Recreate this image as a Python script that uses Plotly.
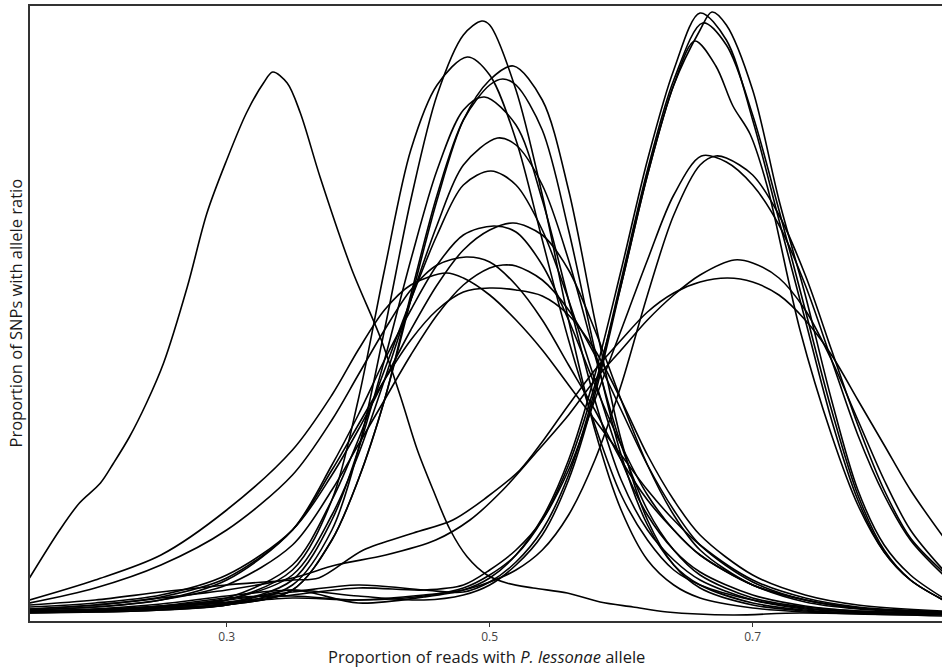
import plotly.graph_objects as go

# ---- data (x = allele proportion, y = density) ----
a_x = [0.150,0.173,0.188,0.204,0.214,0.226,0.239,0.252,0.270,0.285,0.300,0.315,0.328,0.335,0.346,0.356,0.371,0.395,0.417,0.433,0.445,0.457,0.470,0.483,0.498,0.513,0.533,0.559,0.584,0.609,0.635,0.685,0.736,0.844]
a_y = [0.38,0.86,1.13,1.33,1.53,1.79,2.13,2.53,3.29,4.03,4.56,5.03,5.33,5.44,5.33,5.03,4.39,3.47,2.78,2.16,1.66,1.26,0.86,0.59,0.41,0.33,0.28,0.23,0.14,0.09,0.04,0.01,0.03,0.00]

b1_x = [0.15,0.20,0.25,0.30,0.35,0.38,0.40,0.42,0.44,0.46,0.48,0.494,0.50,0.52,0.54,0.56,0.58,0.60,0.62,0.64,0.66,0.70,0.74,0.78,0.845]
b1_y = [0.04,0.04,0.06,0.11,0.31,0.86,1.66,2.86,4.16,5.21,5.81,5.95,5.91,5.26,4.21,2.96,1.86,1.06,0.56,0.31,0.18,0.08,0.04,0.02,0.01]

b2_x = [0.15,0.20,0.25,0.30,0.35,0.38,0.40,0.42,0.44,0.46,0.483,0.50,0.52,0.54,0.56,0.58,0.60,0.62,0.64,0.66,0.70,0.74,0.78,0.845]
b2_y = [0.04,0.06,0.09,0.16,0.46,1.16,2.16,3.46,4.66,5.31,5.59,5.41,4.76,3.76,2.76,1.91,1.21,0.76,0.46,0.31,0.16,0.08,0.04,0.02]

b3_x = [0.15,0.20,0.25,0.30,0.35,0.38,0.40,0.42,0.44,0.46,0.48,0.50,0.518,0.54,0.56,0.58,0.60,0.62,0.64,0.66,0.70,0.74,0.78,0.845]
b3_y = [0.03,0.04,0.06,0.11,0.26,0.76,1.36,2.16,3.16,4.16,4.96,5.36,5.50,5.16,4.26,2.96,1.76,0.96,0.51,0.28,0.11,0.05,0.03,0.02]

b4_x = [0.15,0.20,0.25,0.30,0.35,0.38,0.40,0.42,0.44,0.46,0.48,0.50,0.51,0.52,0.54,0.56,0.58,0.60,0.62,0.64,0.66,0.70,0.74,0.78,0.845]
b4_y = [0.04,0.05,0.07,0.11,0.26,0.76,1.36,2.16,3.21,4.21,4.96,5.31,5.37,5.31,4.86,3.86,2.66,1.61,0.91,0.51,0.31,0.13,0.06,0.03,0.02]

b5_x = [0.15,0.20,0.25,0.30,0.35,0.38,0.40,0.42,0.44,0.46,0.48,0.496,0.52,0.54,0.56,0.58,0.60,0.62,0.64,0.66,0.70,0.74,0.78,0.845]
b5_y = [0.05,0.06,0.08,0.13,0.36,0.96,1.66,2.56,3.56,4.46,5.06,5.19,4.91,4.16,3.16,2.16,1.36,0.86,0.56,0.36,0.16,0.07,0.04,0.02]

b6_x = [0.15,0.20,0.25,0.30,0.35,0.38,0.40,0.42,0.44,0.46,0.48,0.506,0.52,0.54,0.56,0.58,0.60,0.62,0.64,0.66,0.70,0.74,0.78,0.845]
b6_y = [0.05,0.06,0.09,0.16,0.41,1.01,1.61,2.36,3.16,3.91,4.51,4.78,4.71,4.31,3.56,2.61,1.71,1.06,0.66,0.41,0.18,0.09,0.05,0.03]

b7_x = [0.15,0.20,0.25,0.30,0.35,0.38,0.40,0.42,0.44,0.46,0.48,0.501,0.52,0.54,0.56,0.58,0.60,0.62,0.64,0.66,0.70,0.74,0.78,0.845]
b7_y = [0.05,0.07,0.10,0.18,0.51,1.16,1.76,2.46,3.16,3.81,4.31,4.45,4.31,3.86,3.16,2.36,1.56,1.01,0.66,0.44,0.21,0.10,0.05,0.03]

b8_x = [0.15,0.20,0.25,0.30,0.35,0.38,0.40,0.42,0.44,0.46,0.48,0.50,0.518,0.54,0.56,0.58,0.60,0.62,0.64,0.66,0.70,0.74,0.78,0.845]
b8_y = [0.09,0.13,0.21,0.41,0.86,1.41,1.86,2.36,2.86,3.31,3.66,3.86,3.93,3.81,3.46,2.86,2.16,1.51,1.01,0.66,0.31,0.16,0.08,0.04]

b9_x = [0.15,0.20,0.25,0.30,0.35,0.38,0.40,0.42,0.44,0.46,0.48,0.503,0.52,0.54,0.56,0.58,0.60,0.62,0.64,0.66,0.70,0.74,0.78,0.845]
b9_y = [0.06,0.09,0.16,0.36,0.86,1.51,2.01,2.56,3.06,3.51,3.81,3.90,3.84,3.51,2.96,2.31,1.71,1.21,0.86,0.61,0.31,0.14,0.07,0.03]

b10_x = [0.15,0.20,0.25,0.30,0.35,0.38,0.40,0.42,0.44,0.46,0.482,0.50,0.52,0.54,0.56,0.58,0.60,0.62,0.64,0.66,0.70,0.74,0.78,0.845]
b10_y = [0.13,0.28,0.51,0.86,1.41,1.96,2.41,2.86,3.26,3.51,3.59,3.54,3.31,2.96,2.51,2.06,1.56,1.16,0.86,0.61,0.31,0.16,0.08,0.04]

b11_x = [0.15,0.20,0.25,0.30,0.35,0.38,0.40,0.42,0.44,0.46,0.48,0.50,0.51,0.52,0.54,0.56,0.58,0.60,0.62,0.64,0.66,0.70,0.74,0.78,0.845]
b11_y = [0.06,0.09,0.16,0.31,0.71,1.26,1.71,2.16,2.61,3.01,3.31,3.48,3.51,3.50,3.36,3.06,2.61,2.06,1.51,1.06,0.71,0.34,0.16,0.08,0.04]

b12_x = [0.15,0.20,0.25,0.30,0.35,0.38,0.40,0.42,0.44,0.467,0.48,0.50,0.52,0.54,0.56,0.58,0.60,0.62,0.64,0.66,0.70,0.74,0.78,0.845]
b12_y = [0.16,0.36,0.61,1.06,1.66,2.21,2.66,3.06,3.31,3.43,3.38,3.21,2.96,2.66,2.31,1.96,1.61,1.26,0.96,0.71,0.36,0.18,0.09,0.04]

b13_x = [0.15,0.20,0.25,0.30,0.35,0.38,0.40,0.42,0.44,0.46,0.48,0.50,0.52,0.54,0.56,0.58,0.60,0.62,0.64,0.66,0.70,0.74,0.78,0.845]
b13_y = [0.07,0.11,0.19,0.38,0.86,1.46,1.91,2.36,2.76,3.06,3.24,3.28,3.26,3.20,3.01,2.66,2.16,1.61,1.16,0.81,0.41,0.21,0.11,0.05]

c1_x = [0.15,0.20,0.25,0.30,0.35,0.40,0.45,0.48,0.50,0.52,0.54,0.56,0.58,0.60,0.62,0.64,0.66,0.669,0.68,0.70,0.72,0.74,0.76,0.78,0.80,0.82,0.845]
c1_y = [0.04,0.06,0.10,0.18,0.20,0.16,0.20,0.28,0.41,0.61,0.96,1.51,2.31,3.31,4.41,5.31,5.86,6.04,5.91,5.26,4.16,3.21,2.16,1.26,0.71,0.41,0.18]

c2_x = [0.15,0.20,0.25,0.30,0.35,0.40,0.45,0.48,0.50,0.52,0.54,0.56,0.58,0.60,0.62,0.64,0.66,0.68,0.70,0.72,0.74,0.76,0.78,0.80,0.82,0.845]
c2_y = [0.03,0.05,0.08,0.12,0.26,0.13,0.19,0.26,0.38,0.61,0.98,1.56,2.41,3.46,4.56,5.46,6.03,5.76,4.96,3.96,2.96,1.96,1.16,0.64,0.36,0.16]

c3_x = [0.15,0.20,0.25,0.30,0.35,0.40,0.45,0.48,0.50,0.52,0.54,0.56,0.58,0.60,0.62,0.64,0.662,0.68,0.70,0.72,0.74,0.76,0.78,0.80,0.82,0.845]
c3_y = [0.04,0.06,0.10,0.16,0.24,0.31,0.26,0.24,0.34,0.54,0.86,1.41,2.26,3.36,4.46,5.36,5.93,5.71,5.01,4.06,3.06,2.06,1.21,0.66,0.36,0.16]

c4_x = [0.15,0.20,0.25,0.30,0.35,0.40,0.45,0.48,0.50,0.52,0.54,0.56,0.58,0.60,0.62,0.64,0.656,0.672,0.685,0.698,0.711,0.736,0.76,0.78,0.80,0.82,0.845]
c4_y = [0.04,0.07,0.12,0.20,0.26,0.20,0.16,0.21,0.31,0.51,0.81,1.36,2.21,3.31,4.41,5.31,5.75,5.50,5.10,4.82,4.30,2.86,1.81,1.11,0.64,0.36,0.16]

c5_x = [0.15,0.20,0.25,0.30,0.35,0.40,0.45,0.48,0.50,0.52,0.54,0.56,0.58,0.60,0.62,0.64,0.661,0.68,0.70,0.72,0.74,0.76,0.78,0.80,0.82,0.845]
c5_y = [0.04,0.06,0.09,0.14,0.21,0.28,0.26,0.31,0.46,0.66,0.96,1.46,2.16,2.86,3.56,4.21,4.60,4.54,4.31,3.91,3.31,2.56,1.81,1.21,0.76,0.41]

c6_x = [0.15,0.20,0.25,0.30,0.35,0.40,0.45,0.48,0.50,0.52,0.54,0.56,0.58,0.60,0.62,0.64,0.66,0.672,0.68,0.70,0.72,0.74,0.76,0.78,0.80,0.82,0.845]
c6_y = [0.04,0.06,0.09,0.13,0.18,0.16,0.21,0.26,0.34,0.46,0.66,1.01,1.56,2.31,3.21,4.01,4.51,4.60,4.58,4.41,4.01,3.41,2.66,1.91,1.26,0.78,0.44]

c7_x = [0.15,0.20,0.25,0.30,0.35,0.383,0.421,0.459,0.485,0.51,0.535,0.56,0.58,0.60,0.62,0.64,0.66,0.686,0.70,0.72,0.74,0.76,0.78,0.80,0.82,0.845]
c7_y = [0.07,0.11,0.18,0.26,0.38,0.51,0.61,0.76,0.96,1.26,1.63,2.01,2.36,2.66,2.96,3.21,3.41,3.56,3.53,3.38,3.06,2.56,1.96,1.36,0.86,0.46]

c8_x = [0.15,0.20,0.25,0.30,0.35,0.37,0.404,0.442,0.472,0.498,0.523,0.541,0.56,0.58,0.60,0.62,0.64,0.66,0.681,0.70,0.72,0.74,0.76,0.78,0.80,0.82,0.845]
c8_y = [0.11,0.16,0.24,0.31,0.36,0.38,0.66,0.83,0.96,1.19,1.46,1.76,2.11,2.46,2.76,3.04,3.23,3.34,3.38,3.34,3.21,2.96,2.61,2.16,1.71,1.26,0.79]

tick_vals = [0.3, 0.5, 0.7]
tick_text = ["0.3", "0.5", "0.7"]

curves = [
    (a_x, a_y),
    (b1_x, b1_y), (b2_x, b2_y), (b3_x, b3_y), (b4_x, b4_y), (b5_x, b5_y),
    (b6_x, b6_y), (b7_x, b7_y), (b8_x, b8_y), (b9_x, b9_y), (b10_x, b10_y),
    (b11_x, b11_y), (b12_x, b12_y), (b13_x, b13_y),
    (c1_x, c1_y), (c2_x, c2_y), (c3_x, c3_y), (c4_x, c4_y),
    (c5_x, c5_y), (c6_x, c6_y), (c7_x, c7_y), (c8_x, c8_y),
]

fig = go.Figure()
for xs, ys in curves:
    fig.add_trace(go.Scatter(
        x=xs, y=ys, mode="lines",
        line=dict(color="black", width=1.6, shape="spline", smoothing=0.9),
        showlegend=False, hoverinfo="skip",
    ))

axis_col = "#333333"
title_col = "#1a1a1a"
fig.update_layout(
    width=942, height=669,
    margin=dict(l=30, r=0, t=6, b=48),
    paper_bgcolor="white", plot_bgcolor="white",
    font=dict(family="Open Sans, DejaVu Sans, sans-serif", color=title_col),
    xaxis=dict(
        range=[0.1504, 0.844], showgrid=False, zeroline=False,
        showline=True, linecolor=axis_col, linewidth=1.5, mirror=True,
        ticks="outside", ticklen=4, tickwidth=1, tickcolor=axis_col,
        tickvals=tick_vals, ticktext=tick_text,
        tickfont=dict(size=12, color="#444444"),
    ),
    yaxis=dict(
        range=[-0.05, 6.10], showgrid=False, zeroline=False,
        showline=True, linecolor=axis_col, linewidth=1.5,
        showticklabels=False, ticks="",
    ),
    annotations=[
        dict(text="Proportion of reads with <i>P. lessonae</i> allele",
             xref="paper", yref="paper", x=0.5, y=0, yshift=-35,
             xanchor="center", yanchor="middle", showarrow=False,
             font=dict(size=16.5, color=title_col)),
        dict(text="Proportion of SNPs with allele ratio",
             xref="paper", yref="paper", x=0, y=0.5, xshift=-15,
             xanchor="center", yanchor="middle", showarrow=False, textangle=-90,
             font=dict(size=16.5, color=title_col)),
    ],
)

fig.write_html(
    "out.html",
    config={"displayModeBar": False},
    post_script="document.body.style.margin='0';document.body.style.overflow='hidden';",
)
